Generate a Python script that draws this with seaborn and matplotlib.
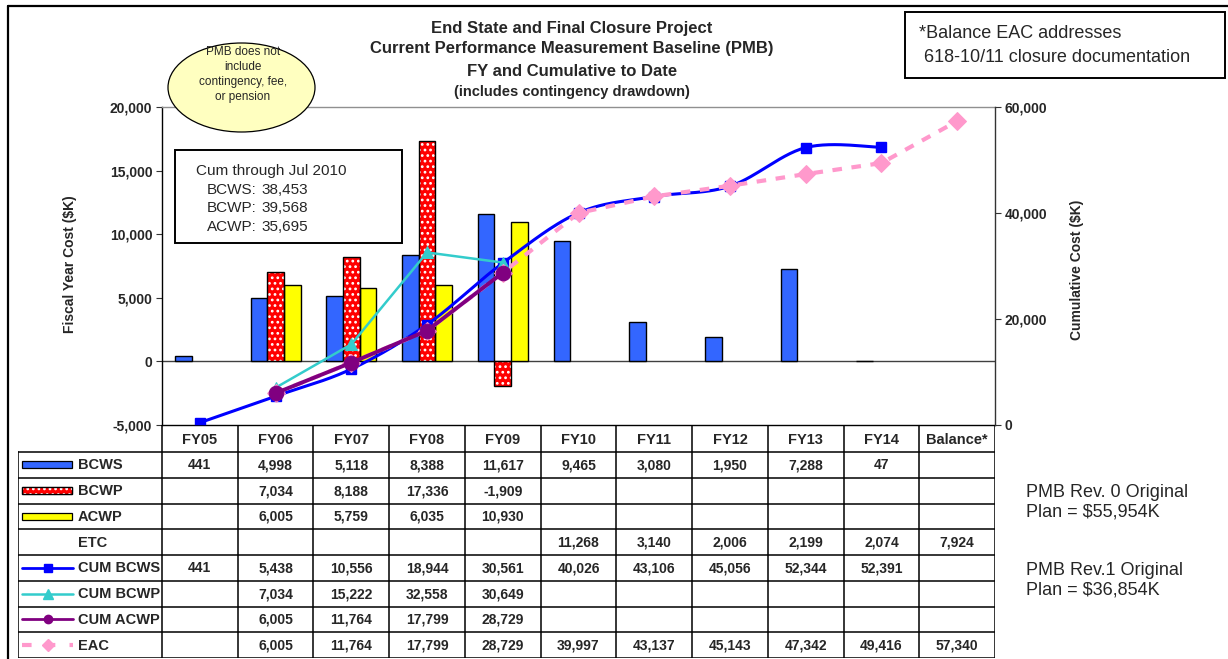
import numpy as np
import pandas as pd
import matplotlib
matplotlib.use("Agg")
import matplotlib.pyplot as plt
from matplotlib.patches import Ellipse, Rectangle
from matplotlib.lines import Line2D
import seaborn as sns

# ---------------------------------------------------------------- data ($K)
categories = ["FY05", "FY06", "FY07", "FY08", "FY09", "FY10",
              "FY11", "FY12", "FY13", "FY14", "Balance*"]
nan = np.nan
bcws = [441, 4998, 5118, 8388, 11617, 9465, 3080, 1950, 7288, 47, nan]
bcwp = [nan, 7034, 8188, 17336, -1909, nan, nan, nan, nan, nan, nan]
acwp = [nan, 6005, 5759, 6035, 10930, nan, nan, nan, nan, nan, nan]
etc = [nan, nan, nan, nan, nan, 11268, 3140, 2006, 2199, 2074, 7924]
cum_bcws = [441, 5438, 10556, 18944, 30561, 40026, 43106, 45056, 52344, 52391, nan]
cum_bcwp = [nan, 7034, 15222, 32558, 30649, nan, nan, nan, nan, nan, nan]
cum_acwp = [nan, 6005, 11764, 17799, 28729, nan, nan, nan, nan, nan, nan]
eac = [nan, 6005, 11764, 17799, 28729, 39997, 43137, 45143, 47342, 49416, 57340]

cum_to_date = [("BCWS:", "38,453"), ("BCWP:", "39,568"), ("ACWP:", "35,695")]

C_BCWS, C_BCWP, C_ACWP = "#3366FF", "#FF0000", "#FFFF00"
C_CBCWS, C_CBCWP, C_CACWP, C_EAC = "#0000FF", "#33CCCC", "#800080", "#FF99CC"

sns.set_style("white")
plt.rcParams["font.family"] = ["Liberation Sans", "DejaVu Sans"]
plt.rcParams["hatch.linewidth"] = 1.2
NARROW = ["Liberation Sans Narrow", "Liberation Sans", "DejaVu Sans"]

W, H = 1228, 659
fig = plt.figure(figsize=(W / 100, H / 100), dpi=100)


def fx(px):
    return px / W


def fy(py):
    return 1 - py / H


# plot area
X0, X1, Y0, Y1 = 162, 995, 107, 425
ax = fig.add_axes([fx(X0), fy(Y1), fx(X1) - fx(X0), fy(Y0) - fy(Y1)])
col_w = (X1 - X0) / len(categories)

# ---------------------------------------------------------------- bars
bar_df = pd.DataFrame({
    "Year": categories * 3,
    "Series": ["BCWS"] * 11 + ["BCWP"] * 11 + ["ACWP"] * 11,
    "Cost": bcws + bcwp + acwp,
}).dropna()
sns.barplot(data=bar_df, x="Year", y="Cost", hue="Series", order=categories,
            hue_order=["BCWS", "BCWP", "ACWP"],
            palette={"BCWS": C_BCWS, "BCWP": C_BCWP, "ACWP": C_ACWP},
            saturation=1, width=0.66, dodge=True, errorbar=None,
            edgecolor="black", linewidth=1.0, legend=False, ax=ax, zorder=2)

# dotted fill on BCWP bars, then re-stroke their outline
for p in ax.containers[1].patches:
    p.set_hatch("...")
    p.set_edgecolor("white")
    p.set_linewidth(0)
    ax.add_patch(Rectangle(p.get_xy(), p.get_width(), p.get_height(),
                           fill=False, edgecolor="black", lw=1.0, zorder=3))

ax.axhline(0, color="#404040", lw=1.0, zorder=1)
ax.set_xlim(-0.5, len(categories) - 0.5)
ax.set_ylim(-5000, 20000)
lt = [-5000, 0, 5000, 10000, 15000, 20000]
ax.set_yticks(lt)
ax.set_yticklabels([f"{t:,}" for t in lt], fontweight="bold", fontsize=10)
ax.set_xticks([])
ax.set_xlabel("")
ax.set_ylabel("")
ax.tick_params(axis="y", direction="out", length=4, width=0.8, pad=3,
               color="#333333", left=True)
for s in ["left", "bottom"]:
    ax.spines[s].set_color("black")
    ax.spines[s].set_linewidth(1.0)
ax.spines["top"].set_color("#909090")
ax.spines["top"].set_linewidth(1.0)
ax.spines["right"].set_visible(False)

# ---------------------------------------------------------------- cumulative lines
ax2 = ax.twinx()
xpos = np.arange(len(categories))


def valid(vals):
    v = np.asarray(vals, dtype=float)
    m = ~np.isnan(v)
    return xpos[m], v[m]


def smooth_curve(xs, ys, sx, sy, n=30):
    # Bezier segments with Catmull-Rom tangents, computed in screen proportions
    P = np.column_stack([np.asarray(xs, float) * sx, np.asarray(ys, float) * sy])
    t = np.linspace(0, 1, n)[1:, None]
    out = [P[:1]]
    for i in range(len(P) - 1):
        p0 = P[i - 1] if i > 0 else P[i]
        p3 = P[i + 2] if i + 2 < len(P) else P[i + 1]
        p1, p2 = P[i], P[i + 1]
        c1 = p1 + (p2 - p0) / 6
        c2 = p2 - (p3 - p1) / 6
        out.append((1 - t) ** 3 * p1 + 3 * (1 - t) ** 2 * t * c1
                   + 3 * (1 - t) * t ** 2 * c2 + t ** 3 * p2)
    Q = np.vstack(out)
    return Q[:, 0] / sx, Q[:, 1] / sy


sy = (Y1 - Y0) / 60000
xb, yb = valid(cum_bcws)
xs_s, ys_s = smooth_curve(xb, yb, col_w, sy)
ax2.plot(xs_s, ys_s, color=C_CBCWS, lw=2.2, zorder=3)
ax2.plot(xb, yb, linestyle="none", marker="s", markersize=7,
         color=C_CBCWS, zorder=3)

xc, yc = valid(cum_bcwp)
sns.lineplot(x=xc, y=yc, color=C_CBCWP, lw=1.8, marker="^", markersize=9,
             markeredgecolor=C_CBCWP, ax=ax2, zorder=4)

xe, ye = valid(eac)
sns.lineplot(x=xe, y=ye, color=C_EAC, lw=3.0, linestyle=(0, (2.3, 2.3)),
             marker="D", markersize=9, markeredgecolor=C_EAC, ax=ax2, zorder=5)

xa, ya = valid(cum_acwp)
sns.lineplot(x=xa, y=ya, color=C_CACWP, lw=2.8, marker="o", markersize=10.5,
             markeredgecolor=C_CACWP, ax=ax2, zorder=6)

ax2.set_ylim(0, 60000)
rt = [0, 20000, 40000, 60000]
ax2.set_yticks(rt)
ax2.set_yticklabels([f"{t:,}" for t in rt], fontweight="bold", fontsize=10)
ax2.set_xticks([])
ax2.set_xlabel("")
ax2.set_ylabel("")
ax2.tick_params(axis="y", direction="out", length=4, width=0.8, pad=3,
                color="#333333", right=True)
for s in ["left", "top", "bottom"]:
    ax2.spines[s].set_visible(False)
ax2.spines["right"].set_color("#333333")
ax2.spines["right"].set_linewidth(1.0)

# axis titles
fig.text(fx(70), fy(264), "Fiscal Year Cost ($K)", rotation=90, ha="center",
         va="center", fontsize=10, fontweight="bold")
fig.text(fx(1077), fy(270), "Cumulative Cost ($K)", rotation=90, ha="center",
         va="center", fontsize=10, fontweight="bold")

# chart title
title_lines = [("End State and Final Closure Project", 28, 12),
               ("Current Performance Measurement Baseline (PMB)", 49, 12),
               ("FY and Cumulative to Date", 71, 12),
               ("(includes contingency drawdown)", 92, 10.5)]
for txt, ypx, fs in title_lines:
    fig.text(fx(572), fy(ypx), txt, ha="center", va="center", fontsize=fs,
             fontweight="bold")

# ---------------------------------------------------------------- data table
TX0, TY0, TY1 = 18, 425, 658
tab = fig.add_axes([fx(TX0), fy(TY1), fx(X1) - fx(TX0), fy(TY0) - fy(TY1)])
hdr_w = (X0 - TX0) / col_w
left_edge = -0.5 - hdr_w
right_edge = len(categories) - 0.5
tab.set_xlim(left_edge, right_edge)
table_h = TY1 - TY0
tab.set_ylim(table_h, 0)
tab.axis("off")
head_h = 27
rows = [("BCWS", bcws), ("BCWP", bcwp), ("ACWP", acwp), ("ETC", etc),
        ("CUM BCWS", cum_bcws), ("CUM BCWP", cum_bcwp),
        ("CUM ACWP", cum_acwp), ("EAC", eac)]
row_h = (table_h - head_h) / len(rows)
lkw = dict(color="black", lw=1.1, solid_capstyle="projecting")

tab.plot([-0.5, right_edge], [0, 0], **lkw)
tab.plot([left_edge, right_edge], [head_h, head_h], **lkw)
for i in range(len(rows)):
    yb_ = head_h + (i + 1) * row_h
    tab.plot([left_edge, right_edge], [yb_, yb_], **lkw)
tab.plot([left_edge, left_edge], [head_h, table_h], **lkw)
for k in range(len(categories) + 1):
    tab.plot([k - 0.5, k - 0.5], [0, table_h], **lkw)

for k, c in enumerate(categories):
    tab.text(k, head_h / 2 + 1, c, ha="center", va="center", fontsize=10.5,
             fontweight="bold")


def xd(px):
    return left_edge + (px - TX0) / col_w


swatch = {
    "BCWS": ("bar", C_BCWS, None),
    "BCWP": ("bar", C_BCWP, "..."),
    "ACWP": ("bar", C_ACWP, None),
    "CUM BCWS": ("line", C_CBCWS, ("s", 6, "-", 2.0)),
    "CUM BCWP": ("line", C_CBCWP, ("^", 7, "-", 1.8)),
    "CUM ACWP": ("line", C_CACWP, ("o", 6, "-", 2.0)),
    "EAC": ("line", C_EAC, ("D", 6, (0, (2.3, 3.4)), 3.0)),
}
for i, (name, vals) in enumerate(rows):
    ycen = head_h + (i + 0.5) * row_h
    kind = swatch.get(name)
    if kind is not None and kind[0] == "bar":
        r = Rectangle((xd(22), ycen - 3.5), xd(72) - xd(22), 7,
                      facecolor=kind[1], edgecolor="black", lw=0.9)
        tab.add_patch(r)
        if kind[2]:
            tab.add_patch(Rectangle((xd(22), ycen - 3.5), xd(72) - xd(22), 7,
                                    facecolor="none", edgecolor="white",
                                    hatch=kind[2], lw=0))
            tab.add_patch(Rectangle((xd(22), ycen - 3.5), xd(72) - xd(22), 7,
                                    fill=False, edgecolor="black", lw=0.9))
    elif kind is not None:
        mk, ms, ls, lw = kind[2]
        tab.add_line(Line2D([xd(22), xd(47.5), xd(73)], [ycen] * 3,
                            color=kind[1], lw=lw, linestyle=ls, marker=mk,
                            markersize=ms, markevery=[1],
                            markeredgecolor=kind[1]))
    tab.text(xd(78), ycen + 0.5, name, ha="left", va="center", fontsize=10.5,
             fontweight="bold")
    for k, v in enumerate(vals):
        if not np.isnan(v):
            tab.text(k, ycen + 0.5, f"{v:,.0f}", ha="center", va="center",
                     fontsize=10, fontweight="bold")

# ---------------------------------------------------------------- annotations
fig.add_artist(Ellipse((fx(241.5), fy(87.5)), 147 / W, 89 / H,
                       transform=fig.transFigure, facecolor="#FFFFC0",
                       edgecolor="black", lw=0.9, zorder=5))
for txt, ypx in [("PMB does not", 52), ("include", 67),
                 ("contingency, fee,", 82), ("or pension", 97)]:
    fig.text(fx(243), fy(ypx), txt, ha="center", va="center", fontsize=8.5,
             family=NARROW, zorder=6)

fig.add_artist(Rectangle((fx(175), fy(243)), (402 - 175) / W, (243 - 150) / H,
                         transform=fig.transFigure, facecolor="white",
                         edgecolor="black", lw=1.4, zorder=5))
fig.text(fx(196), fy(171), "Cum through Jul 2010", ha="left", va="center",
         fontsize=11, family=NARROW, zorder=6)
for j, (lab, val) in enumerate(cum_to_date):
    ypx = 190 + j * 18.5
    fig.text(fx(207), fy(ypx), lab, ha="left", va="center", fontsize=11,
             family=NARROW, zorder=6)
    fig.text(fx(261), fy(ypx), val, ha="left", va="center", fontsize=11,
             family=NARROW, zorder=6)

fig.add_artist(Rectangle((fx(905), fy(78)), (1225 - 905) / W, (78 - 12) / H,
                         transform=fig.transFigure, facecolor="white",
                         edgecolor="black", lw=1.4, zorder=5))
fig.text(fx(919), fy(34), "*Balance EAC addresses", ha="left", va="center",
         fontsize=13, zorder=6)
fig.text(fx(919), fy(57), " 618-10/11 closure documentation", ha="left",
         va="center", fontsize=13, zorder=6)

fig.text(fx(1026), fy(502), "PMB Rev. 0 Original\nPlan = $55,954K", ha="left",
         va="center", fontsize=13, linespacing=1.2)
fig.text(fx(1026), fy(580), "PMB Rev.1 Original\nPlan = $36,854K", ha="left",
         va="center", fontsize=13, linespacing=1.2)

# outer frame (top and left edges)
fig.add_artist(Line2D([fx(8), fx(8)], [fy(6), 0], transform=fig.transFigure,
                      color="black", lw=1.6))
fig.add_artist(Line2D([fx(8), 1], [fy(6), fy(6)], transform=fig.transFigure,
                      color="black", lw=1.6))

fig.savefig("out.png", dpi=100)
